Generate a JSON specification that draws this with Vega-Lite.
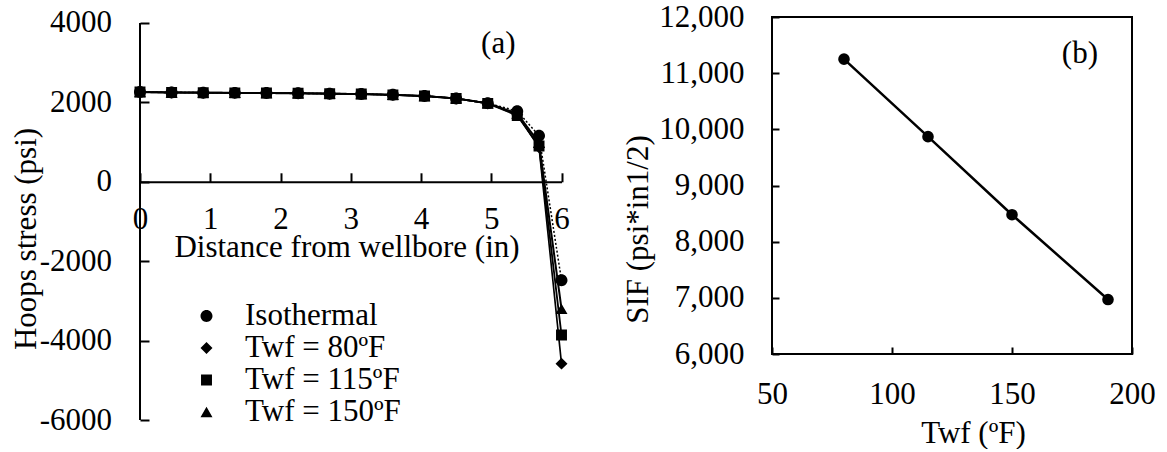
{
  "$schema": "https://vega.github.io/schema/vega-lite/v6.json",
  "padding": {"left": 10, "top": 0, "right": 0, "bottom": 0},
  "autosize": {"type": "pad"},
  "spacing": 25,
  "config": {
    "font": "Liberation Serif",
    "view": {"stroke": null},
    "axis": {"labelFontSize": 31, "titleFontSize": 31, "labelColor": "black", "titleColor": "black", "titleFontWeight": "normal", "domainColor": "black", "tickColor": "black", "domainWidth": 2, "tickWidth": 2, "grid": false, "labelFont": "Liberation Serif", "titleFont": "Liberation Serif", "labelFlush": false, "labelOverlap": false}
  },
  "datasets": {
    "left": [
      {"series": "Isothermal", "x": 0, "y": 2260}, {"series": "Isothermal", "x": 0.45, "y": 2250}, {"series": "Isothermal", "x": 0.9, "y": 2245}, {"series": "Isothermal", "x": 1.35, "y": 2240}, {"series": "Isothermal", "x": 1.8, "y": 2235}, {"series": "Isothermal", "x": 2.25, "y": 2230}, {"series": "Isothermal", "x": 2.7, "y": 2220}, {"series": "Isothermal", "x": 3.15, "y": 2210}, {"series": "Isothermal", "x": 3.6, "y": 2190}, {"series": "Isothermal", "x": 4.05, "y": 2160}, {"series": "Isothermal", "x": 4.5, "y": 2100}, {"series": "Isothermal", "x": 4.95, "y": 1980}, {"series": "Isothermal", "x": 5.37, "y": 1780}, {"series": "Isothermal", "x": 5.68, "y": 1160}, {"series": "Isothermal", "x": 6.0, "y": -2480},
      {"series": "Twf = 80ºF", "x": 0, "y": 2260}, {"series": "Twf = 80ºF", "x": 0.45, "y": 2250}, {"series": "Twf = 80ºF", "x": 0.9, "y": 2245}, {"series": "Twf = 80ºF", "x": 1.35, "y": 2240}, {"series": "Twf = 80ºF", "x": 1.8, "y": 2235}, {"series": "Twf = 80ºF", "x": 2.25, "y": 2230}, {"series": "Twf = 80ºF", "x": 2.7, "y": 2220}, {"series": "Twf = 80ºF", "x": 3.15, "y": 2210}, {"series": "Twf = 80ºF", "x": 3.6, "y": 2190}, {"series": "Twf = 80ºF", "x": 4.05, "y": 2160}, {"series": "Twf = 80ºF", "x": 4.5, "y": 2100}, {"series": "Twf = 80ºF", "x": 4.95, "y": 1975}, {"series": "Twf = 80ºF", "x": 5.37, "y": 1690}, {"series": "Twf = 80ºF", "x": 5.68, "y": 870}, {"series": "Twf = 80ºF", "x": 6.0, "y": -4580},
      {"series": "Twf = 115ºF", "x": 0, "y": 2260}, {"series": "Twf = 115ºF", "x": 0.45, "y": 2250}, {"series": "Twf = 115ºF", "x": 0.9, "y": 2245}, {"series": "Twf = 115ºF", "x": 1.35, "y": 2240}, {"series": "Twf = 115ºF", "x": 1.8, "y": 2235}, {"series": "Twf = 115ºF", "x": 2.25, "y": 2230}, {"series": "Twf = 115ºF", "x": 2.7, "y": 2220}, {"series": "Twf = 115ºF", "x": 3.15, "y": 2210}, {"series": "Twf = 115ºF", "x": 3.6, "y": 2190}, {"series": "Twf = 115ºF", "x": 4.05, "y": 2160}, {"series": "Twf = 115ºF", "x": 4.5, "y": 2100}, {"series": "Twf = 115ºF", "x": 4.95, "y": 1975}, {"series": "Twf = 115ºF", "x": 5.37, "y": 1670}, {"series": "Twf = 115ºF", "x": 5.68, "y": 900}, {"series": "Twf = 115ºF", "x": 6.0, "y": -3860},
      {"series": "Twf = 150ºF", "x": 0, "y": 2260}, {"series": "Twf = 150ºF", "x": 0.45, "y": 2250}, {"series": "Twf = 150ºF", "x": 0.9, "y": 2245}, {"series": "Twf = 150ºF", "x": 1.35, "y": 2240}, {"series": "Twf = 150ºF", "x": 1.8, "y": 2235}, {"series": "Twf = 150ºF", "x": 2.25, "y": 2230}, {"series": "Twf = 150ºF", "x": 2.7, "y": 2220}, {"series": "Twf = 150ºF", "x": 3.15, "y": 2210}, {"series": "Twf = 150ºF", "x": 3.6, "y": 2190}, {"series": "Twf = 150ºF", "x": 4.05, "y": 2160}, {"series": "Twf = 150ºF", "x": 4.5, "y": 2100}, {"series": "Twf = 150ºF", "x": 4.95, "y": 1978}, {"series": "Twf = 150ºF", "x": 5.37, "y": 1720}, {"series": "Twf = 150ºF", "x": 5.68, "y": 980}, {"series": "Twf = 150ºF", "x": 6.0, "y": -3200}
    ],
    "right": [
      {"t": 80, "sif": 11250}, {"t": 115, "sif": 9870}, {"t": 150, "sif": 8480}, {"t": 190, "sif": 6970}
    ]
  },
  "hconcat": [
    {
      "width": 421.5,
      "height": 403,
      "encoding": {
        "x": {"field": "x", "type": "quantitative", "scale": {"domain": [0, 6], "nice": false, "zero": false},
          "axis": {"title": "Distance from wellbore (in)", "values": [0, 1, 2, 3, 4, 5, 6], "offset": -238.2, "tickSize": -9, "labelPadding": 32, "titleX": 206.5, "titleY": 75, "titleBaseline": "alphabetic", "titleAlign": "center", "labelExpr": "datum.value + ''"}},
        "y": {"field": "y", "type": "quantitative", "scale": {"domain": [-6000, 4151], "nice": false, "zero": false},
          "axis": {"title": "Hoops stress (psi)", "values": [-6000, -4000, -2000, 0, 2000, 4000], "domain": false, "tickSize": -9, "labelPadding": 37.5, "titleX": -104.8, "titleY": 221.5, "titleAngle": -90, "titleBaseline": "alphabetic", "titleAlign": "center", "labelExpr": "datum.value + ''"}}
      },
      "layer": [
        {
          "data": {"values": [{"x": 0, "y": -6000, "y2": 4000}]},
          "mark": {"type": "rule", "color": "black", "strokeWidth": 2},
          "encoding": {"y2": {"field": "y2"}}
        },
        {
          "data": {"name": "left"},
          "mark": {"type": "line", "color": "black"},
          "encoding": {
            "strokeDash": {"field": "series", "type": "nominal", "scale": {"domain": ["Isothermal", "Twf = 80ºF", "Twf = 115ºF", "Twf = 150ºF"], "range": [[2, 2], [1, 0], [1, 0], [1, 0]]},
              "legend": {"title": null, "orient": "none", "legendX": 51, "legendY": 283.5, "symbolSize": 130, "symbolStrokeColor": "black", "symbolFillColor": "black", "labelOffset": 23, "rowPadding": 0, "padding": 0, "labelFontSize": 31, "labelColor": "black", "labelFont": "Liberation Serif"}},
            "strokeWidth": {"field": "series", "type": "nominal", "scale": {"domain": ["Isothermal", "Twf = 80ºF", "Twf = 115ºF", "Twf = 150ºF"], "range": [1.5, 2, 4, 2]},
              "legend": {"title": null, "orient": "none", "legendX": 51, "legendY": 283.5, "symbolSize": 130, "symbolStrokeColor": "black", "symbolFillColor": "black", "labelOffset": 23, "rowPadding": 0, "padding": 0, "labelFontSize": 31, "labelColor": "black", "labelFont": "Liberation Serif"}}
          }
        },
        {
          "data": {"name": "left"},
          "mark": {"type": "point", "filled": true, "color": "black", "opacity": 1, "size": 130},
          "encoding": {
            "shape": {"field": "series", "type": "nominal",
              "scale": {"domain": ["Isothermal", "Twf = 80ºF", "Twf = 115ºF", "Twf = 150ºF"],
                "range": ["M-5.96,0H5.96M-1.05,0A1.05,1.05,0,1,0,1.05,0A1.05,1.05,0,1,0,-1.05,0Z", "M-5.96,0H5.96M-1.05,0L0,-1.05L1.05,0L0,1.05Z", "M-5.96,0H5.96M-0.96,-0.96H0.96V0.96H-0.96Z", "M-5.96,0H5.96M0,-0.91L1.05,0.91L-1.05,0.91Z"]},
              "legend": {"title": null, "orient": "none", "legendX": 51, "legendY": 283.5, "symbolSize": 130, "symbolStrokeColor": "black", "symbolFillColor": "black", "labelOffset": 23, "rowPadding": 0, "padding": 0, "labelFontSize": 31, "labelColor": "black", "labelFont": "Liberation Serif"}}
          }
        },
        {
          "data": {"values": [{"x": 5.1, "y": 3476, "label": "(a)"}]},
          "mark": {"type": "text", "fontSize": 31, "font": "Liberation Serif", "color": "black", "align": "center", "baseline": "middle"},
          "encoding": {"text": {"field": "label"}}
        }
      ]
    },
    {
      "width": 360,
      "height": 337,
      "view": {"stroke": "black", "strokeWidth": 2},
      "encoding": {
        "x": {"field": "t", "type": "quantitative", "scale": {"domain": [50, 200], "nice": false, "zero": false},
          "axis": {"title": "Twf (ºF)", "values": [50, 100, 150, 200], "domain": false, "tickSize": -7, "labelPadding": 32.7, "titleX": 201, "titleY": 88, "titleBaseline": "alphabetic", "titleAlign": "center"}},
        "y": {"field": "sif", "type": "quantitative", "scale": {"domain": [6000, 12000], "nice": false, "zero": false},
          "axis": {"title": "SIF (psi*in1/2)", "values": [6000, 7000, 8000, 9000, 10000, 11000, 12000], "format": ",d", "domain": false, "tickSize": -7, "labelPadding": 35, "titleX": -125, "titleY": 212, "titleAngle": -90, "titleBaseline": "alphabetic", "titleAlign": "center"}}
      },
      "layer": [
        {"data": {"name": "right"}, "mark": {"type": "line", "color": "black", "strokeWidth": 2.5}},
        {"data": {"name": "right"}, "mark": {"type": "point", "filled": true, "color": "black", "opacity": 1, "size": 135, "shape": "circle"}},
        {
          "data": {"values": [{"t": 178.3, "sif": 11343, "label": "(b)"}]},
          "mark": {"type": "text", "fontSize": 31, "font": "Liberation Serif", "color": "black", "align": "center", "baseline": "middle"},
          "encoding": {"text": {"field": "label"}}
        }
      ]
    }
  ]
}
